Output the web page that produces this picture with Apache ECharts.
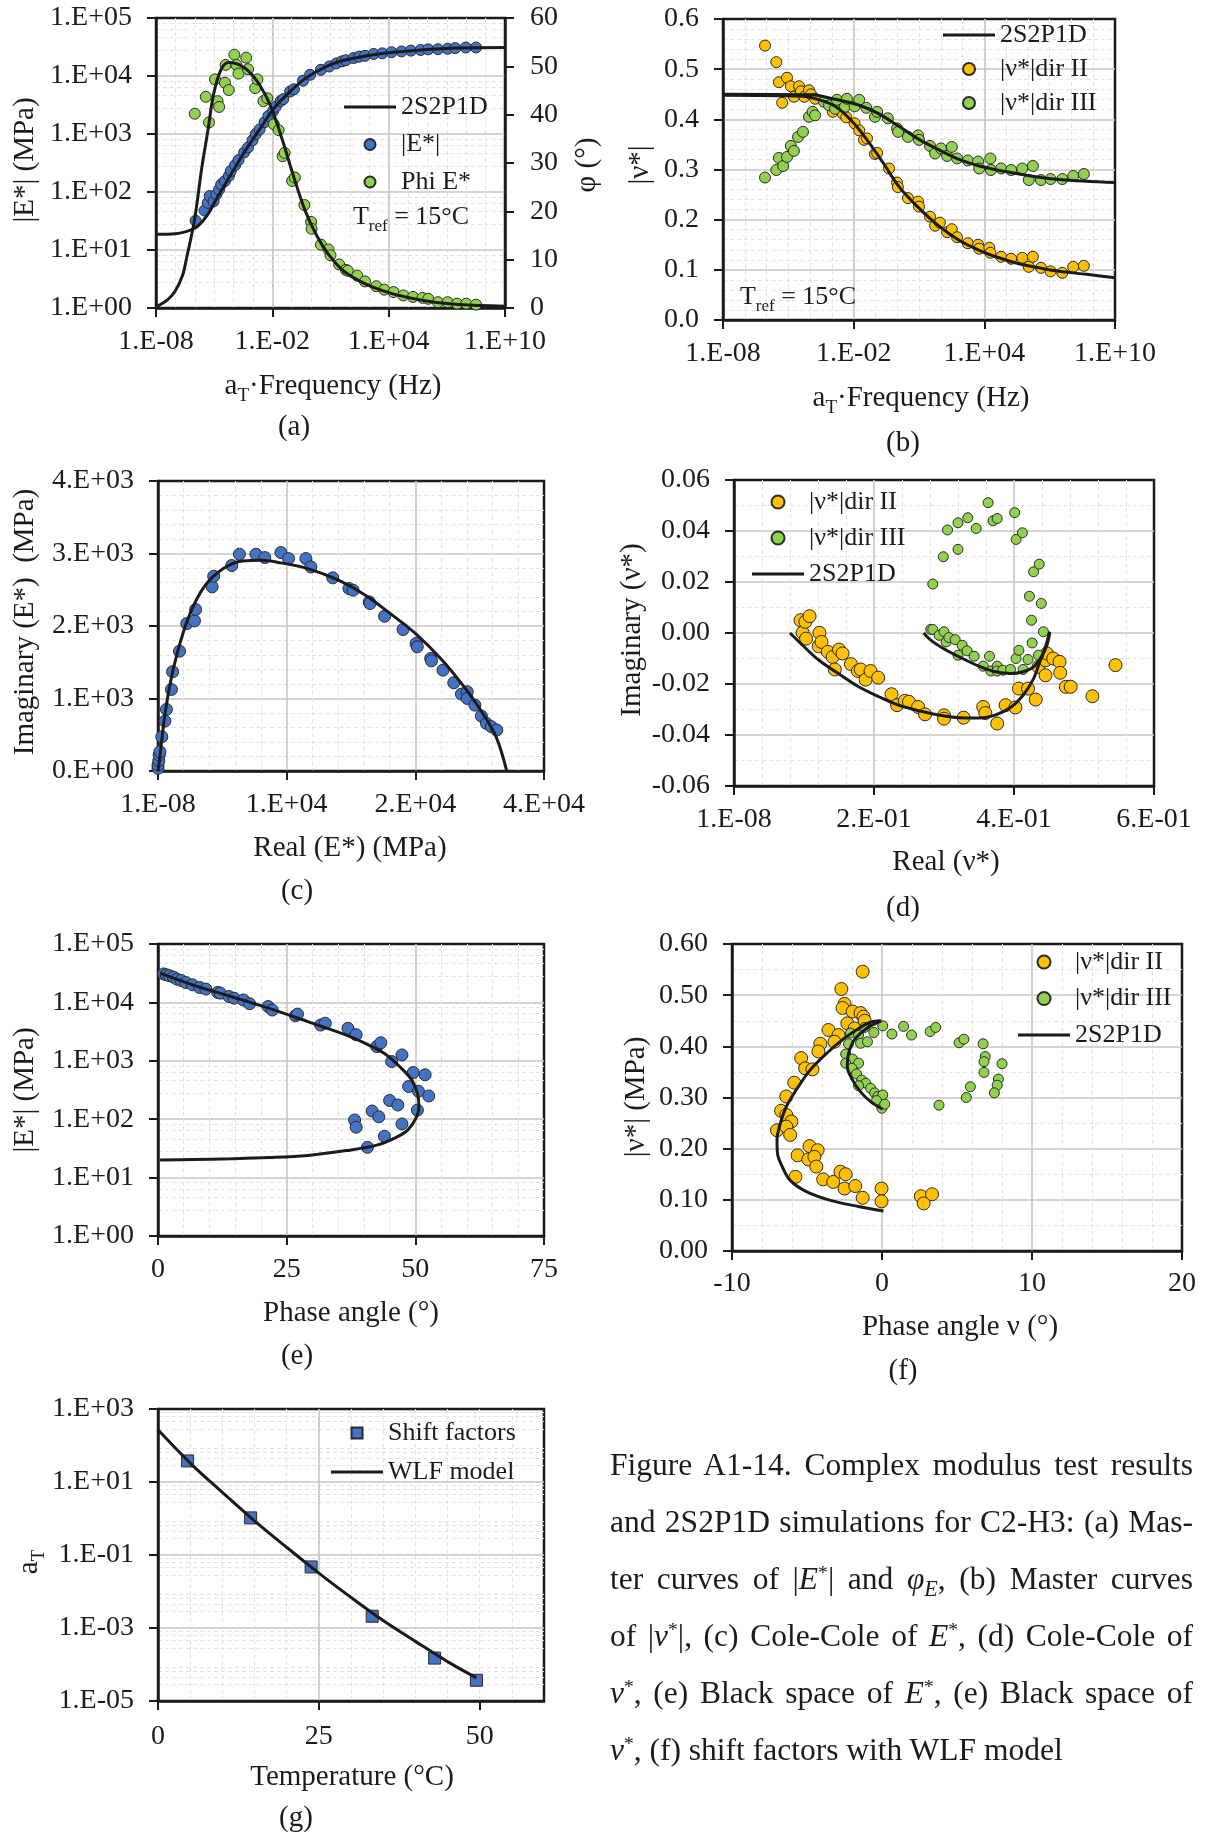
<!DOCTYPE html>
<html>
<head>
<meta charset="utf-8">
<title>Complex modulus test results – C2-H3</title>
<script src="https://cdn.jsdelivr.net/npm/echarts@6/dist/echarts.min.js"></script>
<style>
  html, body { margin: 0; padding: 0; background: #ffffff; }
  #chart { position: absolute; left: 0; top: 0; width: 1206px; height: 1838px; }
  #caption {
    position: absolute; left: 610px; top: 1436px; width: 583px;
    font-family: "Liberation Serif", "Times New Roman", Times, serif;
    font-size: 31.5px; line-height: 57px; color: #1b1b1b;
  }
  #caption .ln { white-space: nowrap; text-align: justify; text-align-last: justify; }
  #caption .ln.last { text-align-last: left; }
  #caption sup { font-size: 0.62em; vertical-align: 0.5em; line-height: 0; }
  #caption sub { font-size: 0.7em; vertical-align: -0.3em; line-height: 0; }
</style>
</head>
<body>
<div id="chart"></div>
<div id="caption">
  <div class="ln">Figure A1-14. Complex modulus test results</div>
  <div class="ln">and 2S2P1D simulations for C2-H3: (a) Mas-</div>
  <div class="ln">ter curves of |<i>E</i><sup>*</sup>| and <i>φ<sub>E</sub></i>, (b) Master curves</div>
  <div class="ln">of |<i>ν</i><sup>*</sup>|, (c) Cole-Cole of <i>E</i><sup>*</sup>, (d) Cole-Cole of</div>
  <div class="ln"><i>ν</i><sup>*</sup>, (e) Black space of <i>E</i><sup>*</sup>, (e) Black space of</div>
  <div class="ln last"><i>ν</i><sup>*</sup>, (f) shift factors with WLF model</div>
</div>
<script>
// ---------------- data ----------------
// (a) master curves of |E*| (MPa) and phase angle (deg) vs reduced frequency (Hz)
const aModulus = [[1.1e-6,32],[3.2e-6,48],[4.7e-6,65],[5.9e-6,85],[9.3e-6,69],[1.3e-5,91],[1.8e-5,110],[2.3e-5,135],[3.6e-5,155],[5.8e-5,190],[7.2e-5,230],[1.2e-4,290],[1.8e-4,355],[3.5e-4,480],[5.6e-4,585],[9.5e-4,780],[1.4e-3,1000],[2.2e-3,1200],[4.0e-3,1600],[6.3e-3,2050],[1.1e-2,2500],[1.5e-2,2950],[2.7e-2,3700],[3.7e-2,4000],[8.3e-2,5400],[0.13,5900],[0.38,8300],[0.89,10500],[3.2,12800],[8.7,14600],[20,16500],[39,17900],[62,18700],[155,20400],[300,21500],[600,22300],[1700,24000],[4700,24600],[1.4e4,25700],[4.6e4,26500],[1.4e5,27400],[4.5e5,28100],[1.1e6,28800],[3.5e6,29000],[1.1e7,29500],[2.7e7,30300],[9.5e7,31000],[3.2e8,31000]];
const aPhase = [[1.0e-6,40.2],[3.7e-6,43.7],[5.4e-6,38.4],[1.1e-5,47.3],[1.5e-5,42.8],[1.8e-5,41.6],[3.6e-5,46.6],[3.9e-5,50.3],[5.7e-5,45.1],[1.1e-4,52.4],[1.4e-4,50.3],[1.8e-4,48.5],[4.5e-4,51.8],[5.6e-4,49.4],[1.3e-3,45.5],[1.7e-3,47.3],[3.5e-3,42.8],[5.5e-3,43.4],[1.2e-2,38.0],[2.1e-2,36.8],[3.4e-2,31.4],[4.3e-2,32.1],[0.105,26.3],[0.145,27.0],[0.45,21.3],[1.0,17.8],[1.05,16.4],[3.2,13.1],[7.9,12.1],[10,10.9],[28,9.0],[62,7.9],[78,7.7],[240,6.7],[600,5.5],[2300,4.5],[5900,3.8],[1.8e4,3.3],[5.7e4,2.6],[1.8e5,2.3],[5.6e5,2.1],[1.1e6,1.9],[3.5e6,1.2],[1.1e7,1.2],[3.4e7,0.9],[1.0e8,0.9],[3.2e8,0.7]];
const aModelModulus = [[1e-8,18.6],[1e-7,19],[6e-7,22],[1.5e-6,26],[4.7e-6,41],[1.4e-5,79],[5.8e-5,176],[3.5e-4,480],[2.2e-3,1200],[1.35e-2,2900],[8.3e-2,5400],[0.51,9100],[5,14100],[49,18700],[4700,24500],[4.5e5,28000],[4.2e7,30300],[1e10,31000]];
const aModelPhase = [[1.15e-8,0.4],[3.9e-8,1.7],[9.8e-8,3.5],[2.4e-7,6.9],[3.8e-7,10.4],[9.5e-7,18.0],[2.3e-6,29.0],[4.7e-6,36.6],[9.3e-6,44.2],[2.3e-5,49.4],[5.8e-5,50.8],[1.8e-4,50.4],[5.6e-4,49.1],[2.2e-3,46.2],[8.5e-3,41.6],[3.4e-2,34.6],[0.13,27.0],[0.51,20.0],[2.0,14.9],[7.9,11.1],[49,7.6],[480,5.2],[4700,3.6],[7.2e4,2.3],[1.1e6,1.4],[4.2e7,0.7],[1e10,0.35]];
const freqTicks = [1e-8, 1e-2, 1e4, 1e10];
const freqTickLabels = ['1.E-08', '1.E-02', '1.E+04', '1.E+10'];
const modTicks = [1, 10, 100, 1e3, 1e4, 1e5];
const modTickLabels = ['1.E+00', '1.E+01', '1.E+02', '1.E+03', '1.E+04', '1.E+05'];
const phaseTicks = [0, 10, 20, 30, 40, 50, 60];
const phaseTickLabels = ['0', '10', '20', '30', '40', '50', '60'];

// (b) master curves of |nu*| vs reduced frequency (Hz)
const bDir2 = [[8.5e-7,0.547],[2.8e-6,0.514],[3.7e-6,0.474],[5.2e-6,0.433],[8.7e-6,0.483],[1.3e-5,0.466],[1.8e-5,0.445],[3.1e-5,0.466],[3.8e-5,0.456],[5.4e-5,0.445],[8.9e-5,0.458],[1.1e-4,0.450],[1.7e-4,0.441],[1.1e-3,0.415],[3.2e-3,0.411],[4.6e-3,0.404],[1.1e-2,0.392],[1.8e-2,0.378],[3.0e-2,0.359],[4.1e-2,0.362],[9.5e-2,0.331],[0.12,0.333],[0.42,0.302],[0.98,0.274],[1.07,0.265],[3.1,0.243],[9.1,0.236],[10,0.226],[32,0.206],[55,0.188],[91,0.194],[195,0.175],[320,0.181],[560,0.165],[1740,0.153],[5200,0.150],[5800,0.142],[1.7e4,0.144],[1.9e4,0.134],[5.9e4,0.126],[1.7e5,0.122],[5.5e5,0.124],[1.1e6,0.106],[1.7e6,0.126],[4.0e6,0.104],[1.1e7,0.097],[3.8e7,0.094],[1.2e8,0.106],[3.7e8,0.108]];
const bDir3 = [[8.5e-7,0.284],[2.8e-6,0.299],[3.7e-6,0.323],[5.8e-6,0.307],[8.7e-6,0.325],[1.3e-5,0.347],[1.8e-5,0.337],[2.8e-5,0.365],[4.7e-5,0.375],[8.9e-5,0.405],[1.3e-4,0.415],[1.7e-4,0.408],[4.3e-4,0.435],[7.4e-4,0.428],[1.4e-3,0.421],[1.7e-3,0.439],[4.0e-3,0.425],[4.9e-3,0.441],[1.1e-2,0.426],[1.8e-2,0.439],[3.8e-2,0.423],[9.5e-2,0.405],[0.12,0.415],[0.37,0.402],[0.98,0.382],[1.1,0.375],[3.1,0.365],[9.1,0.368],[10,0.359],[32,0.347],[55,0.332],[102,0.342],[195,0.327],[320,0.345],[560,0.322],[1740,0.318],[5200,0.316],[5800,0.302],[1.9e4,0.322],[2.0e4,0.299],[5.9e4,0.302],[1.7e5,0.299],[5.5e5,0.302],[1.1e6,0.279],[1.7e6,0.307],[4.0e6,0.279],[1.1e7,0.281],[3.8e7,0.281],[1.2e8,0.287],[3.7e8,0.291]];
const bModelDir2 = [[1e-8,0.448],[4.7e-5,0.446],[2.6e-4,0.439],[1.4e-3,0.426],[7.6e-3,0.398],[4.1e-2,0.359],[0.22,0.314],[1.2,0.266],[10,0.223],[83,0.187],[690,0.159],[5800,0.139],[4.7e4,0.124],[3.9e5,0.112],[3.2e6,0.104],[2.7e7,0.097],[5.2e8,0.091],[1e10,0.084]];
const bModelDir3 = [[1e-8,0.450],[1.1e-4,0.449],[1.4e-3,0.440],[1.8e-2,0.428],[0.145,0.411],[1.2,0.386],[10,0.360],[83,0.339],[690,0.320],[5800,0.307],[3.9e5,0.291],[2.7e7,0.280],[1e10,0.274]];
const nuTicks = [0, 0.1, 0.2, 0.3, 0.4, 0.5, 0.6];
const nuTickLabels = ['0.0', '0.1', '0.2', '0.3', '0.4', '0.5', '0.6'];

// (c) Cole-Cole plane of E* (MPa)
const cPoints = [[0,37],[0,83],[70,142],[105,220],[174,266],[348,473],[627,689],[766,850],[1219,1125],[1323,1369],[1950,1653],[2612,2034],[3308,2071],[3413,2227],[4910,2540],[5050,2687],[6687,2834],[7383,2990],[8880,2990],[9681,2944],[11144,3013],[11840,2930],[13408,2930],[13860,2815],[15846,2664],[17308,2517],[17692,2494],[19154,2333],[19224,2310],[20547,2135],[22219,1952],[23403,1759],[23507,1713],[24726,1552],[24796,1520],[25841,1391],[26816,1217],[27512,1061],[28035,1093],[28035,1001],[28731,909],[29323,758],[29776,657],[30229,611],[30716,565]];
const cModel = [[0,0],[174,197],[522,657],[1045,1162],[1741,1622],[2786,2127],[4179,2540],[5920,2792],[7662,2898],[9403,2907],[11144,2871],[13582,2792],[16368,2632],[18806,2425],[21244,2150],[23333,1897],[25771,1529],[27512,1208],[29254,840],[30647,473],[31622,0]];
const cRealTicks = [0, 35000 / 3, 70000 / 3, 35000];
const cRealTickLabels = ['1.E-08', '1.E+04', '2.E+04', '4.E+04'];
const cImagTicks = [0, 1000, 2000, 3000, 4000];
const cImagTickLabels = ['0.E+00', '1.E+03', '2.E+03', '3.E+03', '4.E+03'];

// (d) Cole-Cole plane of nu*
const dDir2 = [[0.095,0.0050],[0.098,0.0001],[0.102,0.0044],[0.103,-0.0022],[0.108,0.0066],[0.122,0.0001],[0.121,-0.0052],[0.125,-0.0035],[0.134,-0.0074],[0.141,-0.0094],[0.144,-0.0143],[0.150,-0.0065],[0.155,-0.0080],[0.167,-0.0122],[0.177,-0.0149],[0.181,-0.0143],[0.188,-0.0183],[0.195,-0.0149],[0.206,-0.0175],[0.225,-0.0240],[0.233,-0.0283],[0.244,-0.0266],[0.250,-0.0270],[0.263,-0.0290],[0.273,-0.0319],[0.300,-0.0323],[0.300,-0.0336],[0.328,-0.0332],[0.356,-0.0290],[0.359,-0.0314],[0.376,-0.0355],[0.388,-0.0283],[0.402,-0.0292],[0.407,-0.0218],[0.420,-0.0218],[0.431,-0.0261],[0.435,-0.0133],[0.445,-0.0166],[0.445,-0.0107],[0.447,-0.0080],[0.456,-0.0100],[0.465,-0.0113],[0.466,-0.0156],[0.474,-0.0211],[0.481,-0.0211],[0.512,-0.0248],[0.545,-0.0126]];
const dDir3 = [[0.284,0.0192],[0.281,0.0014],[0.284,0.0014],[0.293,-0.0009],[0.299,0.0299],[0.300,0.0005],[0.303,-0.0035],[0.305,0.0404],[0.307,-0.0018],[0.316,-0.0026],[0.320,0.0432],[0.320,0.0328],[0.320,-0.0087],[0.326,-0.0048],[0.333,-0.0070],[0.334,0.0452],[0.343,-0.0091],[0.346,0.0410],[0.356,-0.0130],[0.363,0.0511],[0.365,-0.0091],[0.367,-0.0149],[0.370,0.0440],[0.376,0.0449],[0.376,-0.0130],[0.376,-0.0149],[0.384,-0.0146],[0.395,-0.0143],[0.401,0.0472],[0.403,0.0367],[0.403,-0.0100],[0.407,-0.0068],[0.412,0.0393],[0.413,-0.0143],[0.420,-0.0104],[0.422,0.0144],[0.425,0.0050],[0.426,-0.0039],[0.428,0.0240],[0.435,-0.0087],[0.436,0.0270],[0.439,0.0116],[0.442,0.0005]];
const dModelDir2 = [[0.080,0.0],[0.098,-0.0048],[0.121,-0.0106],[0.149,-0.0159],[0.178,-0.0211],[0.207,-0.0250],[0.235,-0.0283],[0.264,-0.0305],[0.293,-0.0322],[0.322,-0.0332],[0.350,-0.0333],[0.373,-0.0322],[0.396,-0.0290],[0.413,-0.0244],[0.428,-0.0179],[0.436,-0.0120],[0.445,-0.0054],[0.451,0.0005]];
const dModelDir3 = [[0.271,0.0],[0.281,-0.0028],[0.299,-0.0061],[0.322,-0.0094],[0.350,-0.0130],[0.373,-0.0152],[0.396,-0.0159],[0.413,-0.0152],[0.428,-0.0133],[0.439,-0.0094],[0.447,-0.0048],[0.451,0.0]];
const dRealTicks = [0, 0.2, 0.4, 0.6];
const dRealTickLabels = ['1.E-08', '2.E-01', '4.E-01', '6.E-01'];
const dImagTicks = [-0.06, -0.04, -0.02, 0, 0.02, 0.04, 0.06];
const dImagTickLabels = ['-0.06', '-0.04', '-0.02', '0.00', '0.02', '0.04', '0.06'];

// (e) Black space of E*: phase angle (deg) vs |E*| (MPa)
const ePoints = [[1.1,30700],[1.6,29700],[2.2,28700],[3.0,27100],[3.7,25000],[4.5,23800],[5.4,21900],[6.7,20000],[8.1,18000],[9.3,16900],[11.6,14800],[12.1,14400],[13.8,12600],[14.8,11800],[16.6,11000],[17.8,9500],[21.4,8500],[22.2,7400],[26.7,5900],[27.1,6300],[31.6,4100],[32.5,4400],[36.9,3600],[38.5,2800],[42.5,1750],[43.3,2040],[45.4,970],[47.4,1260],[49.6,630],[51.9,576],[48.7,363],[50.6,302],[52.6,250],[45.0,209],[46.6,175],[50.4,143],[41.6,138],[42.9,110],[38.2,97],[38.5,73],[47.4,83],[44.0,51],[40.7,33]];
const eModel = [[0.4,31600],[6.7,20000],[14.2,12600],[21.6,7900],[29.1,4700],[36.6,2750],[40.3,1980],[44.0,1330],[47.0,790],[49.3,470],[50.4,277],[50.7,163],[50.1,103],[48.5,65],[46.3,49],[42.5,36],[36.6,29],[29.1,24],[21.6,22],[14.2,21],[6.7,20.4],[0.4,20]];
const eAngleTicks = [0, 25, 50, 75];
const eAngleTickLabels = ['0', '25', '50', '75'];

// (f) Black space of nu*: phase angle (deg) vs |nu*|
const fDir2 = [[-1.29,0.546],[-2.71,0.512],[-2.50,0.483],[-2.63,0.475],[-1.96,0.468],[-1.43,0.465],[-1.24,0.458],[-1.16,0.450],[-2.31,0.445],[-1.83,0.435],[-3.57,0.432],[-2.90,0.422],[-3.17,0.409],[-4.11,0.405],[-4.24,0.390],[-5.39,0.377],[-5.12,0.357],[-4.64,0.355],[-5.85,0.329],[-6.38,0.302],[-6.73,0.274],[-6.38,0.266],[-6.04,0.253],[-7.00,0.236],[-6.38,0.243],[-6.12,0.227],[-4.83,0.205],[-4.29,0.197],[-5.63,0.187],[-4.91,0.179],[-4.51,0.184],[-4.38,0.165],[-5.77,0.145],[-3.92,0.140],[-3.25,0.135],[-2.77,0.155],[-2.42,0.150],[-2.50,0.122],[-1.78,0.127],[-1.29,0.104],[-0.03,0.122],[-0.03,0.097],[2.59,0.107],[2.78,0.093],[3.34,0.111]];
const fDir3 = [[0.05,0.440],[-1.16,0.437],[-0.54,0.427],[1.44,0.439],[0.66,0.424],[1.97,0.422],[3.21,0.429],[3.58,0.437],[5.14,0.407],[5.46,0.414],[6.74,0.405],[6.88,0.380],[6.80,0.370],[8.0,0.366],[6.80,0.349],[7.76,0.336],[7.68,0.324],[7.49,0.309],[5.89,0.321],[5.62,0.300],[3.80,0.285],[-2.10,0.426],[-1.56,0.422],[-2.23,0.405],[-1.43,0.406],[-0.97,0.409],[-2.42,0.385],[-1.96,0.375],[-2.42,0.367],[-1.56,0.367],[-2.01,0.357],[-1.70,0.346],[-1.35,0.334],[-1.08,0.328],[-1.56,0.323],[-0.76,0.318],[-0.49,0.309],[-0.28,0.302],[0.05,0.305],[-0.36,0.294],[-0.01,0.279],[0.18,0.287]];
const fModelDir2 = [[-0.09,0.450],[-0.76,0.447],[-1.56,0.435],[-2.63,0.413],[-3.70,0.386],[-4.78,0.354],[-5.58,0.321],[-6.38,0.282],[-6.84,0.243],[-7.0,0.217],[-6.97,0.191],[-6.65,0.165],[-6.12,0.138],[-5.04,0.116],[-3.44,0.099],[-1.56,0.087],[0.10,0.078]];
const fModelDir3 = [[-0.05,0.450],[-1.03,0.435],[-1.83,0.413],[-2.23,0.386],[-2.31,0.360],[-1.96,0.334],[-1.43,0.311],[-0.76,0.292],[0.05,0.277]];
const fAngleTicks = [-10, 0, 10, 20];
const fAngleTickLabels = ['-10', '0', '10', '20'];
const fNuTickLabels = ['0.00', '0.10', '0.20', '0.30', '0.40', '0.50', '0.60'];

// (g) shift factors aT vs temperature (deg C) and WLF model
const gShift = [[4.6,37.8],[14.4,1.04],[23.8,0.047],[33.3,0.0021],[43.0,1.5e-4],[49.5,3.7e-5]];
const gWlf = [[0,269],[5,33],[10,5.2],[15,0.86],[20,0.162],[25,0.032],[30,0.0069],[35,0.0016],[40,4.3e-4],[45,1.2e-4],[49.5,4.3e-5]];
const tempTicks = [0, 25, 50];
const tempTickLabels = ['0', '25', '50'];
const shiftTicks = [1e-5, 1e-3, 1e-1, 10, 1000];
const shiftTickLabels = ['1.E-05', '1.E-03', '1.E-01', '1.E+01', '1.E+03'];

// ---------------- styling ----------------
const FONT = '"Liberation Serif", "Times New Roman", Times, serif';
const INK = '#1b1b1b';
const GRID_MAJOR = '#c6c6c6';
const GRID_MINOR = '#e3e3e3';
const BLUE = '#4472c4';
const GREEN = '#92d050';
const ORANGE = '#ffc000';
const EDGE = '#2a2a2a';
const LINE_ICON = 'path://M0,0 L52,0 L52,3 L0,3 Z';
const SQUARE_ICON = 'path://M0,0 L10,0 L10,10 L0,10 Z';

const boxes = {
  a: { left: 156, top: 18, width: 349, height: 290 },
  b: { left: 723, top: 19, width: 392, height: 301 },
  c: { left: 158, top: 481, width: 386, height: 290 },
  d: { left: 734, top: 480, width: 420, height: 306 },
  e: { left: 158, top: 944, width: 386, height: 292 },
  f: { left: 732, top: 944, width: 450, height: 307 },
  g: { left: 158, top: 1409, width: 386, height: 292 }
};

const grid = [], xAxis = [], yAxis = [], series = [], legend = [], graphic = [];

function labelPicker(ticks, labels, log) {
  return function (v) {
    const b = log ? Math.log10(v) : v;
    for (let i = 0; i < ticks.length; i++) {
      const a = log ? Math.log10(ticks[i]) : ticks[i];
      if (Math.abs(a - b) < 1e-6 * Math.max(1, Math.abs(a))) return labels[i];
    }
    return '';
  };
}

function addGrid(box) {
  grid.push(Object.assign({ show: true, borderColor: INK, borderWidth: 2.5, backgroundColor: 'rgba(0,0,0,0)', containLabel: false }, box));
  return grid.length - 1;
}

function mainAxis(list, gi, o) {
  const log = o.type === 'log';
  const ax = {
    type: o.type || 'value', gridIndex: gi, min: o.min, max: o.max, z: 1, silent: true,
    axisLine: { show: true, onZero: false, lineStyle: { color: INK, width: 2.5 } },
    axisTick: { show: true, inside: false, length: 9, customValues: o.ticks, lineStyle: { color: INK, width: 2 } },
    axisLabel: { show: true, margin: o.margin, customValues: o.ticks, formatter: labelPicker(o.ticks, o.labels, log), color: INK, fontFamily: FONT, fontSize: 28 },
    splitLine: { show: o.split !== false, showMinLine: false, showMaxLine: false, lineStyle: { color: GRID_MAJOR, width: 1.6 } },
    minorTick: { show: false, splitNumber: o.minor || 5 },
    minorSplitLine: { show: !!o.minor, lineStyle: { color: GRID_MINOR, width: 1, type: [4, 3] } }
  };
  if (o.interval != null) ax.interval = o.interval;
  if (o.position) ax.position = o.position;
  list.push(ax);
  return list.length - 1;
}

// axis that only contributes faint dashed guide lines
function guideAxis(list, gi, min, max, interval) {
  list.push({
    type: 'value', gridIndex: gi, min: min, max: max, interval: interval, z: 0, silent: true,
    axisLine: { show: false }, axisTick: { show: false }, axisLabel: { show: false },
    splitLine: { show: true, showMinLine: false, showMaxLine: false, lineStyle: { color: GRID_MINOR, width: 1, type: [4, 3] } }
  });
  return list.length - 1;
}

function dots(name, data, xi, yi, color, size, symbol) {
  series.push({
    type: 'scatter', name: name, data: data, xAxisIndex: xi, yAxisIndex: yi,
    symbol: symbol || 'circle', symbolSize: size, silent: true,
    itemStyle: { color: color, borderColor: EDGE, borderWidth: 1, opacity: 1 }
  });
}

function curve(name, data, xi, yi) {
  series.push({
    type: 'line', name: name, data: data, xAxisIndex: xi, yAxisIndex: yi,
    symbol: 'none', showSymbol: false, smooth: 0.35, silent: true,
    lineStyle: { color: INK, width: 3 }, itemStyle: { color: INK }
  });
}

function addLegend(items, left, top, gap, itemHeight) {
  legend.push({
    show: true, orient: 'vertical', left: left, top: top, padding: 0,
    itemWidth: 52, itemHeight: itemHeight, itemGap: gap, selectedMode: false,
    textStyle: { fontFamily: FONT, fontSize: 26, color: INK },
    data: items
  });
}

const subRich = (size) => ({
  n: { fontFamily: FONT, fontSize: size, lineHeight: Math.round(size * 1.38), fill: INK },
  s: { fontFamily: FONT, fontSize: Math.round(size * 0.66), lineHeight: Math.round(size * 0.66), verticalAlign: 'bottom', fill: INK }
});

function text(str, x, y, opt) {
  opt = opt || {};
  const size = opt.size || 29;
  graphic.push({
    type: 'text', x: x, y: y, rotation: opt.rotate ? Math.PI / 2 : 0, silent: true, z: 10,
    style: {
      text: str, fontFamily: FONT, fontSize: size, fill: INK,
      align: 'center', verticalAlign: 'middle',
      rich: opt.rich ? subRich(size) : undefined
    }
  });
}

// ---------------- (a) ----------------
{
  const gi = addGrid(boxes.a);
  const xi = mainAxis(xAxis, gi, { type: 'log', min: 1e-8, max: 1e10, ticks: freqTicks, labels: freqTickLabels, margin: 20 });
  guideAxis(xAxis, gi, -8, 10, 1);
  const yl = mainAxis(yAxis, gi, { type: 'log', min: 1, max: 1e5, ticks: modTicks, labels: modTickLabels, margin: 24, minor: 5 });
  const yr = mainAxis(yAxis, gi, { min: 0, max: 60, interval: 10, ticks: phaseTicks, labels: phaseTickLabels, margin: 25, position: 'right', split: false });
  curve('2S2P1D', aModelModulus, xi, yl);
  curve('2S2P1D', aModelPhase, xi, yr);
  dots('|E*|', aModulus, xi, yl, BLUE, 11);
  dots('Phi E*', aPhase, xi, yr, GREEN, 11);
  addLegend([{ name: '2S2P1D', icon: LINE_ICON }, '|E*|', 'Phi E*'], 344, 94, 11.5, 11);
  text('{n|a}{s|T}{n|·Frequency (Hz)}', 333, 386, { rich: true });
  text('|E*| (MPa)', 25, 160, { rotate: true });
  text('φ (°)', 587, 165, { rotate: true });
  text('{n|T}{s|ref}{n| = 15°C}', 411, 217, { rich: true, size: 26 });
  text('(a)', 294, 427);
}

// ---------------- (b) ----------------
{
  const gi = addGrid(boxes.b);
  const xi = mainAxis(xAxis, gi, { type: 'log', min: 1e-8, max: 1e10, ticks: freqTicks, labels: freqTickLabels, margin: 20 });
  guideAxis(xAxis, gi, -8, 10, 1);
  const yi = mainAxis(yAxis, gi, { min: 0, max: 0.6, interval: 0.1, ticks: nuTicks, labels: nuTickLabels, margin: 24, minor: 5 });
  curve('2S2P1D', bModelDir2, xi, yi);
  curve('2S2P1D', bModelDir3, xi, yi);
  dots('|ν*|dir II', bDir2, xi, yi, ORANGE, 11);
  dots('|ν*|dir III', bDir3, xi, yi, GREEN, 11);
  addLegend([{ name: '2S2P1D', icon: LINE_ICON }, '|ν*|dir II', '|ν*|dir III'], 943, 22, 8, 12);
  text('{n|a}{s|T}{n|·Frequency (Hz)}', 921, 398, { rich: true });
  text('|ν*|', 640, 165, { rotate: true });
  text('{n|T}{s|ref}{n| = 15°C}', 798, 297, { rich: true, size: 26 });
  text('(b)', 903, 443);
}

// ---------------- (c) ----------------
{
  const gi = addGrid(boxes.c);
  const xi = mainAxis(xAxis, gi, { min: 0, max: 35000, interval: 35000 / 3, ticks: cRealTicks, labels: cRealTickLabels, margin: 20, minor: 5 });
  const yi = mainAxis(yAxis, gi, { min: 0, max: 4000, interval: 1000, ticks: cImagTicks, labels: cImagTickLabels, margin: 24, minor: 5 });
  curve('2S2P1D', cModel, xi, yi);
  dots('E* data', cPoints, xi, yi, BLUE, 12);
  text('Real (E*) (MPa)', 350, 848);
  text('Imaginary (E*)  (MPa)', 25, 622, { rotate: true });
  text('(c)', 297, 891);
}

// ---------------- (d) ----------------
{
  const gi = addGrid(boxes.d);
  const xi = mainAxis(xAxis, gi, { min: 0, max: 0.6, interval: 0.2, ticks: dRealTicks, labels: dRealTickLabels, margin: 20, minor: 5 });
  const yi = mainAxis(yAxis, gi, { min: -0.06, max: 0.06, interval: 0.02, ticks: dImagTicks, labels: dImagTickLabels, margin: 24, minor: 2 });
  dots('|ν*|dir II', dDir2, xi, yi, ORANGE, 13);
  dots('|ν*|dir III', dDir3, xi, yi, GREEN, 10);
  curve('2S2P1D', dModelDir2, xi, yi);
  curve('2S2P1D', dModelDir3, xi, yi);
  addLegend(['|ν*|dir II', '|ν*|dir III', { name: '2S2P1D', icon: LINE_ICON }], 752, 489, 10, 13);
  text('Real (ν*)', 946, 862);
  text('Imaginary (ν*)', 632, 630, { rotate: true });
  text('(d)', 903, 908);
}

// ---------------- (e) ----------------
{
  const gi = addGrid(boxes.e);
  const xi = mainAxis(xAxis, gi, { min: 0, max: 75, interval: 25, ticks: eAngleTicks, labels: eAngleTickLabels, margin: 20, minor: 5 });
  const yi = mainAxis(yAxis, gi, { type: 'log', min: 1, max: 1e5, ticks: modTicks, labels: modTickLabels, margin: 24, minor: 5 });
  curve('2S2P1D', eModel, xi, yi);
  dots('Black E*', ePoints, xi, yi, BLUE, 12);
  text('Phase angle (°)', 351, 1313);
  text('|E*| (MPa)', 25, 1090, { rotate: true });
  text('(e)', 297, 1356);
}

// ---------------- (f) ----------------
{
  const gi = addGrid(boxes.f);
  const xi = mainAxis(xAxis, gi, { min: -10, max: 20, interval: 10, ticks: fAngleTicks, labels: fAngleTickLabels, margin: 19, minor: 5 });
  const yi = mainAxis(yAxis, gi, { min: 0, max: 0.6, interval: 0.1, ticks: nuTicks, labels: fNuTickLabels, margin: 24, minor: 2 });
  dots('|ν*|dir II', fDir2, xi, yi, ORANGE, 13);
  dots('|ν*|dir III', fDir3, xi, yi, GREEN, 10);
  curve('2S2P1D', fModelDir2, xi, yi);
  curve('2S2P1D', fModelDir3, xi, yi);
  addLegend(['|ν*|dir II', '|ν*|dir III', { name: '2S2P1D', icon: LINE_ICON }], 1018, 949, 10.5, 13);
  text('Phase angle ν (°)', 960, 1327);
  text('|ν*| (MPa)', 636, 1097, { rotate: true });
  text('(f)', 903, 1371);
}

// ---------------- (g) ----------------
{
  const gi = addGrid(boxes.g);
  const xi = mainAxis(xAxis, gi, { min: 0, max: 60, interval: 25, ticks: tempTicks, labels: tempTickLabels, margin: 22 });
  guideAxis(xAxis, gi, 0, 60, 5);
  const yi = mainAxis(yAxis, gi, { type: 'log', min: 1e-5, max: 1e3, ticks: shiftTicks, labels: shiftTickLabels, margin: 24, minor: 5 });
  curve('WLF model', gWlf, xi, yi);
  dots('Shift factors', gShift, xi, yi, BLUE, 12, 'rect');
  addLegend([{ name: 'Shift factors', icon: SQUARE_ICON }, { name: 'WLF model', icon: LINE_ICON }], 331, 1420, 13, 11);
  text('Temperature (°C)', 352, 1777);
  text('{n|a}{s|T}', 29, 1562, { rich: true, rotate: true });
  text('(g)', 296, 1818);
}

const chart = echarts.init(document.getElementById('chart'), null, { renderer: 'canvas', width: 1206, height: 1838 });
chart.setOption({
  animation: false,
  backgroundColor: '#ffffff',
  textStyle: { fontFamily: FONT },
  grid: grid, xAxis: xAxis, yAxis: yAxis, series: series, legend: legend, graphic: graphic
});
</script>
</body>
</html>
